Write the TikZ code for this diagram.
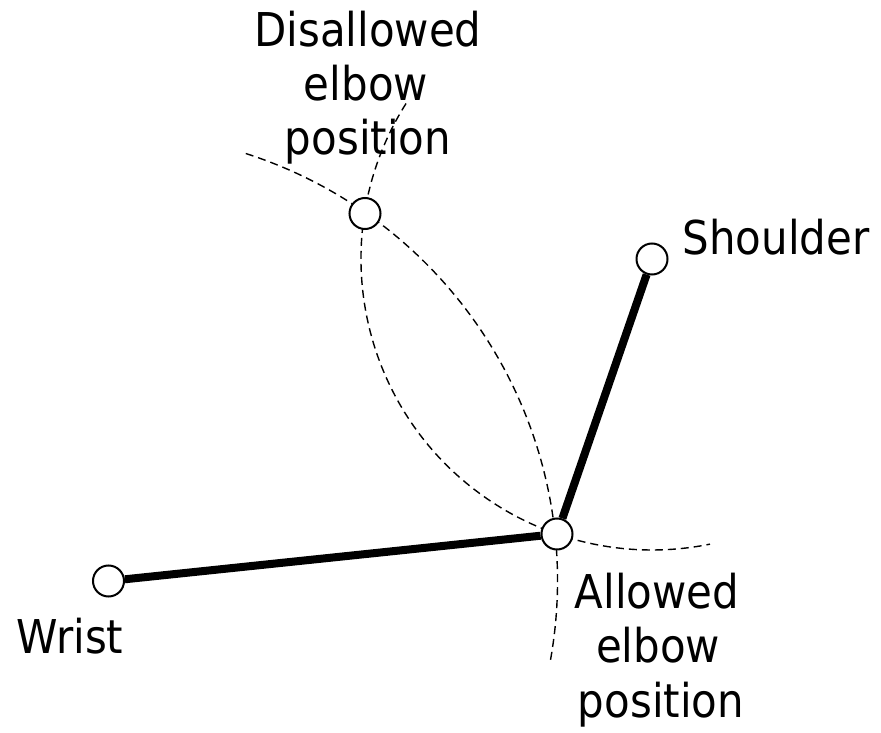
\documentclass[tikz,border=0pt]{standalone}
\usepackage{fontspec}
\setmainfont{DejaVu Sans Condensed}
\begin{document}
\begin{tikzpicture}[x=1pt,y=1pt,
  joint/.style={circle,draw,line width=2pt,fill=white,minimum size=31pt,inner sep=0pt},
  limb/.style={line width=8pt},
  locus/.style={line width=1.4pt,dash pattern=on 8pt off 5pt},
  lbl/.style={anchor=base,inner sep=0pt,font=\fontsize{46.6}{56}\selectfont}]
\useasboundingbox (0,0) rectangle (881,732);
\coordinate (Sc) at (652,473);
\coordinate (Wc) at (108.5,151);
% loci
\draw[locus] (Sc) ++(147.7:291) arc[start angle=147.7,end angle=281.5,radius=291];
\draw[locus] (Wc) ++(72.2:449) arc[start angle=72.2,end angle=-10.5,radius=449];
% joints
\node[joint] (S) at (652,473) {};
\node[joint] (E) at (557,198) {};
\node[joint] (D) at (365,518.5) {};
\node[joint] (W) at (108.5,151) {};
\draw[limb] (W) -- (E);
\draw[limb] (E) -- (S);
% labels
\node[lbl] (d1) at (368,685) {Disallowed};
\node[lbl] (d2) at (366,631.5) {elbow};
\node[lbl] (d3) at (368,577) {position};
\node[lbl] (a1) at (657,124) {Allowed};
\node[lbl] (a2) at (658,70) {elbow};
\node[lbl] (a3) at (661,15) {position};
\node[lbl] (sh) at (776,477) {Shoulder};
\node[lbl] (wr) at (70,79) {Wrist};
\end{tikzpicture}
\end{document}
